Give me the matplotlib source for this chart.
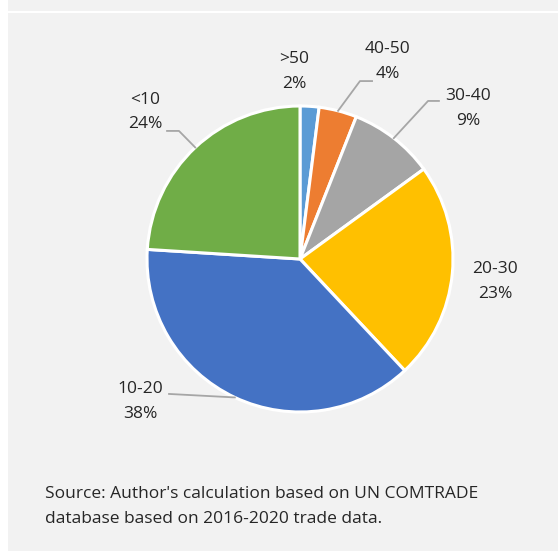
import numpy as np
import matplotlib.pyplot as plt
from matplotlib.patches import Rectangle

# data
categories = ['>50', '40-50', '30-40', '20-30', '10-20', '<10']
shares = [2, 4, 9, 23, 38, 24]
colors = ['#5b9bd5', '#ed7d31', '#a5a5a5', '#ffc000', '#4472c4', '#70ad47']
source_note = "Source: Author's calculation based on UN COMTRADE\ndatabase based on 2016-2020 trade data."

# label layout, in pie radius units (text centre, leader knee, leader end)
label_xy = [(-0.04, 1.225), (0.575, 1.29), (1.098, 0.984),
            (1.275, -0.147), (-1.046, -0.931), (-1.013, 0.961)]
leaders = [None,
           [(0.392, 1.163), (0.471, 1.163)],
           [(0.837, 1.033), (0.908, 1.033)],
           None,
           [(-0.856, -0.882)],
           [(-0.791, 0.837), (-0.869, 0.837)]]

plt.rcParams['font.family'] = ['Open Sans', 'DejaVu Sans']
FS = 12.5
LS = 1.72
W, H = 558, 553
fig = plt.figure(figsize=(W / 100, H / 100), dpi=100)
fig.patch.set_facecolor('white')

# grey panel with white rule near the top
fig.add_artist(Rectangle((8 / W, 2 / H), 1 - 8 / W, 1 - 2 / H, transform=fig.transFigure,
                         facecolor='#f2f2f2', edgecolor='none', zorder=0))
fig.add_artist(Rectangle((8 / W, 1 - 13 / H), 1 - 8 / W, 2 / H, transform=fig.transFigure,
                         facecolor='white', edgecolor='none', zorder=0))

cx, cy, r = 300, 259, 153
ax = fig.add_axes([(cx - r) / W, (H - cy - r) / H, 2 * r / W, 2 * r / H])
ax.set_facecolor('none')
wedges, _ = ax.pie(shares, colors=colors, startangle=90, counterclock=False, radius=1,
                   wedgeprops=dict(edgecolor='white', linewidth=2.2))
ax.set_xlim(-1, 1)
ax.set_ylim(-1, 1)
ax.set_aspect('equal')
ax.axis('off')

for w, cat, val, (tx, ty), lead in zip(wedges, categories, shares, label_xy, leaders):
    ax.text(tx, ty, f'{cat}\n{val}%', ha='center', va='center', fontsize=FS,
            color='#262626', linespacing=LS, clip_on=False)
    if lead is not None:
        ang = np.deg2rad((w.theta1 + w.theta2) / 2)
        pts = [(np.cos(ang), np.sin(ang))] + lead
        xs, ys = zip(*pts)
        ax.plot(xs, ys, color='#a6a6a6', linewidth=1.3, clip_on=False)

fig.text(45 / W, 1 - 506.5 / H, source_note, ha='left', va='center', fontsize=FS,
         color='#262626', linespacing=LS)

fig.savefig('out.png', dpi=100, facecolor=fig.get_facecolor())
